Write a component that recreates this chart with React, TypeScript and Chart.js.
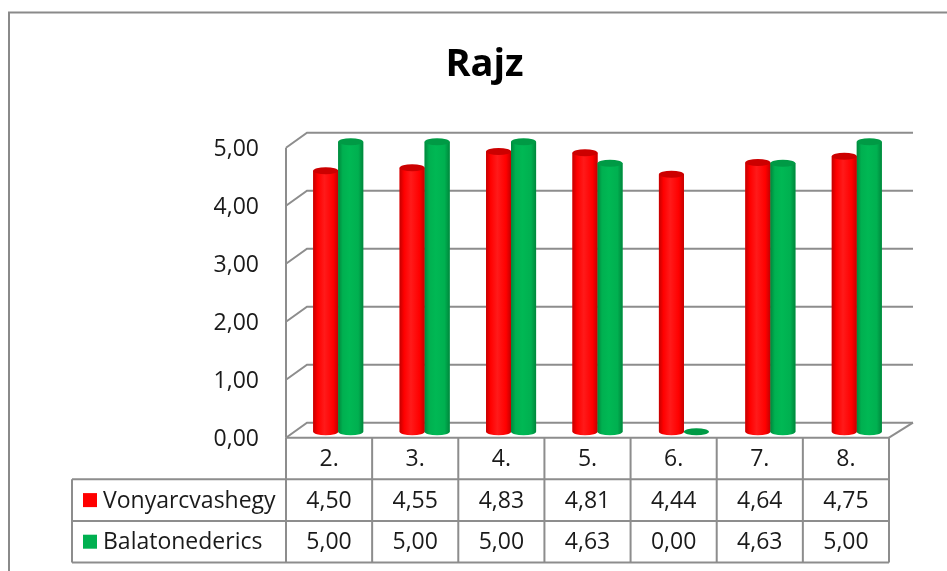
import React, { useEffect, useRef } from 'react';
import { Chart, registerables } from 'chart.js';

Chart.register(...registerables);

// ---- data ----
const titleText = 'Rajz';
const categories = ['2.', '3.', '4.', '5.', '6.', '7.', '8.'];
const seriesNames = ['Vonyarcvashegy', 'Balatonederics'];
const vonyarcvashegy = [4.5, 4.55, 4.83, 4.81, 4.44, 4.64, 4.75];
const balatonederics = [5.0, 5.0, 5.0, 4.63, 0.0, 4.63, 5.0];
const yTickLabels = ['0,00', '1,00', '2,00', '3,00', '4,00', '5,00'];

// ---- style ----
const FONT = "'Open Sans', 'Liberation Sans', sans-serif";
const TEXT = '#1a1a1a';
const GRID = '#8d8d8d';
const palettes = [
  { main: '#ff0000', light: '#ff1a1a', edge: '#c40000', top: '#cc0000' },
  { main: '#00b050', light: '#00b854', edge: '#00873c', top: '#009a45' },
];
const BACK_DX = 12;
const BACK_DY = -9;
const FRONT_DX = -9;
const FRONT_DY = 6;

const fmt = (v: number) => v.toFixed(2).replace('.', ',');

const wallsPlugin = {
  id: 'walls3d',
  beforeDatasetsDraw(chart: any) {
    const { ctx, chartArea: a, scales } = chart;
    const y = scales.y;
    ctx.save();
    ctx.strokeStyle = GRID;
    ctx.lineWidth = 2;
    for (let v = 0; v <= 5; v++) {
      const py = y.getPixelForValue(v);
      ctx.beginPath();
      ctx.moveTo(a.left + FRONT_DX, py + FRONT_DY);
      ctx.lineTo(a.left + BACK_DX, py + BACK_DY);
      ctx.lineTo(a.right + 13, py + BACK_DY);
      ctx.stroke();
    }
    const y0 = y.getPixelForValue(0);
    const y5 = y.getPixelForValue(5);
    ctx.beginPath();
    ctx.moveTo(a.left + FRONT_DX, y5 + FRONT_DY);
    ctx.lineTo(a.left + FRONT_DX, y0 + FRONT_DY);
    ctx.stroke();
    ctx.beginPath();
    ctx.moveTo(a.right - 11, y0 + FRONT_DY);
    ctx.lineTo(a.right + 13, y0 + BACK_DY);
    ctx.stroke();
    ctx.restore();
  },
};

const cylinderPlugin = {
  id: 'cylinders',
  afterDatasetsDraw(chart: any) {
    const { ctx } = chart;
    ctx.save();
    chart.data.datasets.forEach((_ds: any, di: number) => {
      const meta = chart.getDatasetMeta(di);
      const pal = palettes[di];
      meta.data.forEach((bar: any) => {
        const { x, y: top, base, width } = bar.getProps(['x', 'y', 'base', 'width'], true);
        const l = x - width / 2;
        const r = x + width / 2;
        const rx = width / 2;
        const ry = 3.5;
        if (base - top > 0.5) {
          const g = ctx.createLinearGradient(l, 0, r, 0);
          g.addColorStop(0, pal.edge);
          g.addColorStop(0.18, pal.main);
          g.addColorStop(0.45, pal.light);
          g.addColorStop(0.8, pal.main);
          g.addColorStop(1, pal.edge);
          ctx.fillStyle = g;
          ctx.beginPath();
          ctx.ellipse(x, base, rx, ry, 0, 0, Math.PI * 2);
          ctx.fill();
          ctx.fillRect(l, top, width, base - top);
        }
        ctx.fillStyle = pal.top;
        ctx.beginPath();
        ctx.ellipse(x, top, rx, ry, 0, 0, Math.PI * 2);
        ctx.fill();
      });
    });
    ctx.restore();
  },
};

const tablePlugin = {
  id: 'dataTable',
  afterDraw(chart: any) {
    const { ctx, chartArea: a, scales, width: W, height: H } = chart;
    const y = scales.y;
    const tl = a.left + FRONT_DX;
    const tr = a.right - 11;
    const n = categories.length;
    const colW = (tr - tl) / n;
    const top = y.getPixelForValue(0) + FRONT_DY;
    const rowH = 41.6;
    const legendLeft = 72;
    const rows = [vonyarcvashegy, balatonederics];

    ctx.save();
    ctx.strokeStyle = GRID;
    ctx.lineWidth = 2;
    ctx.beginPath();
    ctx.moveTo(tl, top);
    ctx.lineTo(tr, top);
    for (let k = 1; k <= 3; k++) {
      ctx.moveTo(legendLeft, top + rowH * k);
      ctx.lineTo(tr, top + rowH * k);
    }
    for (let i = 0; i <= n; i++) {
      const cx = tl + colW * i;
      ctx.moveTo(cx, top);
      ctx.lineTo(cx, top + rowH * 3);
    }
    ctx.moveTo(legendLeft, top + rowH);
    ctx.lineTo(legendLeft, top + rowH * 3);
    ctx.stroke();

    ctx.fillStyle = TEXT;
    ctx.font = `23px ${FONT}`;
    ctx.textAlign = 'center';
    ctx.textBaseline = 'middle';
    categories.forEach((c, i) => {
      ctx.fillText(c, tl + colW * (i + 0.5), top + rowH / 2 + 1);
    });
    rows.forEach((vals, ri) => {
      const cy = top + rowH * (ri + 1.5) + 1;
      vals.forEach((v, i) => {
        ctx.fillStyle = TEXT;
        ctx.fillText(fmt(v), tl + colW * (i + 0.5), cy);
      });
      ctx.fillStyle = palettes[ri].main;
      ctx.fillRect(legendLeft + 11, cy - 8, 14, 14);
      ctx.fillStyle = TEXT;
      ctx.textAlign = 'left';
      ctx.fillText(seriesNames[ri], legendLeft + 31, cy);
      ctx.textAlign = 'center';
    });

    // title
    ctx.fillStyle = '#000';
    ctx.font = `bold 38px ${FONT}`;
    ctx.textAlign = 'center';
    ctx.textBaseline = 'alphabetic';
    ctx.fillText(titleText, 484.5, 76);

    // outer border
    ctx.strokeStyle = '#8a8a8a';
    ctx.lineWidth = 2;
    ctx.beginPath();
    ctx.moveTo(9, H);
    ctx.lineTo(9, 12.5);
    ctx.lineTo(W, 12.5);
    ctx.stroke();
    ctx.restore();
  },
};

export default function App() {
  const ref = useRef<HTMLCanvasElement | null>(null);
  useEffect(() => {
    document.body.style.margin = '0';
    const canvas = ref.current;
    if (!canvas) return;
    const chart = new Chart(canvas, {
      type: 'bar',
      data: {
        labels: categories,
        datasets: [
          { label: seriesNames[0], data: vonyarcvashegy, backgroundColor: palettes[0].main, borderWidth: 0 },
          { label: seriesNames[1], data: balatonederics, backgroundColor: palettes[1].main, borderWidth: 0 },
        ],
      },
      options: {
        animation: false,
        responsive: true,
        maintainAspectRatio: false,
        layout: { padding: { left: 0, top: 141.7, right: 47, bottom: 139.3 } },
        datasets: { bar: { categoryPercentage: 0.5785, barPercentage: 1 } },
        plugins: { legend: { display: false }, title: { display: false }, tooltip: { enabled: false } },
        scales: {
          x: { display: false },
          y: {
            min: 0,
            max: 5,
            afterFit(scale: any) {
              scale.width = 295;
            },
            grid: { display: false, drawTicks: false },
            border: { display: false },
            ticks: {
              stepSize: 1,
              padding: 36,
              labelOffset: 8,
              color: TEXT,
              font: { family: FONT, size: 23 },
              callback: (_v: any, i: number) => yTickLabels[i],
            },
          },
        },
      },
      plugins: [wallsPlugin, cylinderPlugin, tablePlugin],
    });
    return () => chart.destroy();
  }, []);
  return (
    <div style={{ position: 'relative', width: 947, height: 571, background: '#fff' }}>
      <canvas ref={ref} />
    </div>
  );
}
